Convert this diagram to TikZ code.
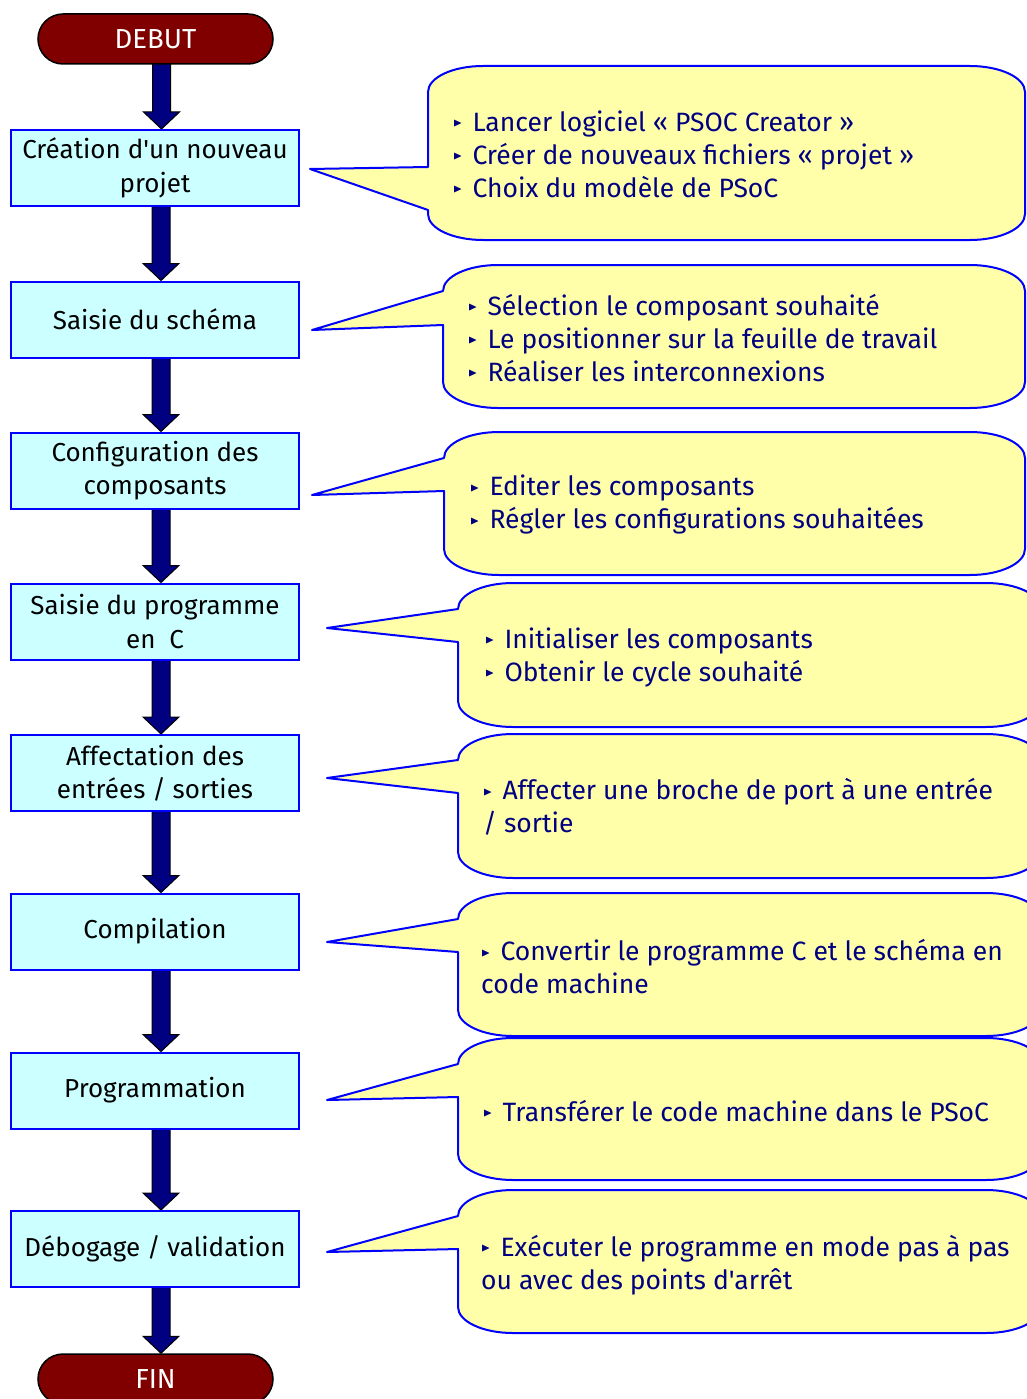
\documentclass[tikz,border=0pt]{standalone}
\usepackage{fontspec}
\setmainfont{Fira Sans}[Ligatures=TeXOff]
\usepackage{amssymb}
\usetikzlibrary{calc,shapes.misc,backgrounds}

\definecolor{termred}{HTML}{800000}
\definecolor{flownavy}{HTML}{000080}
\definecolor{stepfill}{HTML}{CCFFFF}
\definecolor{stepline}{HTML}{0000FF}
\definecolor{notefill}{HTML}{FFFFAA}

% small triangular bullet
\newcommand\puce{\raisebox{0.17em}{\scalebox{0.45}{$\blacktriangleright$}}\hspace{0.38em}}

% rounded callout body with a wedge pointing left
% #1 left, #2 top, #3 right, #4 bottom, #5 tip x, #6 tip y, #7 wedge top, #8 wedge bottom
\newcommand\bulle[8]{%
  \draw[notebox]
    ({#1},{#7}) -- ({#5},{#6}) -- ({#1},{#8})
    -- ({#1},{#4-26}) .. controls ({#1},{#4-11.6}) and ({#1+24.6},{#4}) .. ({#1+55},{#4})
    -- ({#3-55},{#4}) .. controls ({#3-24.6},{#4}) and ({#3},{#4-11.6}) .. ({#3},{#4-26})
    -- ({#3},{#2+26}) .. controls ({#3},{#2+11.6}) and ({#3-24.6},{#2}) .. ({#3-55},{#2})
    -- ({#1+55},{#2}) .. controls ({#1+24.6},{#2}) and ({#1},{#2+11.6}) .. ({#1},{#2+26})
    -- cycle;}

% block arrow between two nodes (drawn slightly right of the centre line)
\newcommand\flow[2]{%
  \draw[flowarrow] let \p1=(#1.south), \p2=(#2.north) in
    (\x1-3pt,\y1+3pt) -- (\x1-3pt,\y2+17pt) -- (\x1-12pt,\y2+17pt) -- (\x1+6pt,\y2)
    -- (\x1+24pt,\y2+17pt) -- (\x1+15pt,\y2+17pt) -- (\x1+15pt,\y1+3pt) -- cycle;}

\tikzset{
  term/.style={rounded rectangle, draw=black, line width=1.5pt, fill=termred,
    text=white, minimum width=235pt, minimum height=50pt, inner sep=0pt,
    font=\fontsize{27.5}{33}\selectfont},
  stepbox/.style={rectangle, draw=stepline, line width=2pt, fill=stepfill,
    minimum width=288pt, minimum height=76pt, inner sep=0pt, align=center,
    font=\fontsize{26}{33.5}\selectfont},
  notebox/.style={draw=stepline, line width=2pt, fill=notefill, line join=round},
  notetext/.style={anchor=west, inner sep=0pt, align=left, text=flownavy,
    font=\fontsize{26.5}{33}\selectfont},
  flowarrow/.style={draw=black, line width=1pt, fill=flownavy, line join=miter},
}

\begin{document}
\begin{tikzpicture}[x=1pt,y=-1pt]
\useasboundingbox (0,0) rectangle (1027,1399);
\clip (0,0) rectangle (1027,1399);

% callouts
\bulle{428}{66}{1025}{240}{310}{169}{167}{210}
\bulle{443}{265}{1025}{408}{312}{330}{291}{325}
\bulle{444}{432}{1025}{575}{312}{495}{458}{491}
\bulle{458}{583}{1041}{727}{327}{628}{609}{642}
\bulle{458}{734}{1041}{878}{327}{778}{760}{793}
\bulle{458}{893}{1041}{1036}{327}{942}{919}{952}
\bulle{458}{1038}{1041}{1180}{327}{1100}{1064}{1097}
\bulle{458}{1190}{1041}{1333}{327}{1252}{1216}{1249}

\node[notetext] (t1) at (453,154) {\puce Lancer logiciel « PSOC Creator »\\
  \puce Créer de nouveaux fichiers « projet »\\ \puce Choix du modèle de PSoC};
\node[notetext] (t2) at (468,338) {\puce Sélection le composant souhaité\\
  \puce Le positionner sur la feuille de travail\\ \puce Réaliser les interconnexions};
\node[notetext] (t3) at (470,504.5) {\puce Editer les composants\\
  \puce Régler les configurations souhaitées};
\node[notetext] (t4) at (485,657) {\puce Initialiser les composants\\
  \puce Obtenir le cycle souhaité};
\node[notetext] (t5) at (483,807) {\puce Affecter une broche de port à une entrée\\
  / sortie};
\node[notetext] (t6) at (481,967) {\puce Convertir le programme C et le schéma en\\
  code machine};
\node[notetext] (t7) at (483,1111) {\puce Transférer le code machine dans le PSoC};
\node[notetext] (t8) at (481,1265) {\puce Exécuter le programme en mode pas à pas\\
  ou avec des points d'arrêt};

% flow chart
\node[term] (debut) at (155.5,39) {DEBUT};
\node[stepbox] (s1) at (155,168) {Création d'un nouveau\\ projet};
\node[stepbox] (s2) at (155,319.5) {Saisie du schéma};
\node[stepbox] (s3) at (155,470.5) {Configuration des\\ composants};
\node[stepbox] (s4) at (155,621.5) {Saisie du programme\\ en~ C};
\node[stepbox] (s5) at (155,773) {Affectation des\\ entrées / sorties};
\node[stepbox] (s6) at (155,931.5) {Compilation};
\node[stepbox] (s7) at (155,1090.5) {Programmation};
\node[stepbox] (s8) at (155,1249) {Débogage / validation};
\node[term] (fin) at (155.5,1379) {FIN};

\begin{pgfonlayer}{background}
\flow{debut}{s1}
\flow{s1}{s2}
\flow{s2}{s3}
\flow{s3}{s4}
\flow{s4}{s5}
\flow{s5}{s6}
\flow{s6}{s7}
\flow{s7}{s8}
\flow{s8}{fin}
\end{pgfonlayer}
\end{tikzpicture}
\end{document}
